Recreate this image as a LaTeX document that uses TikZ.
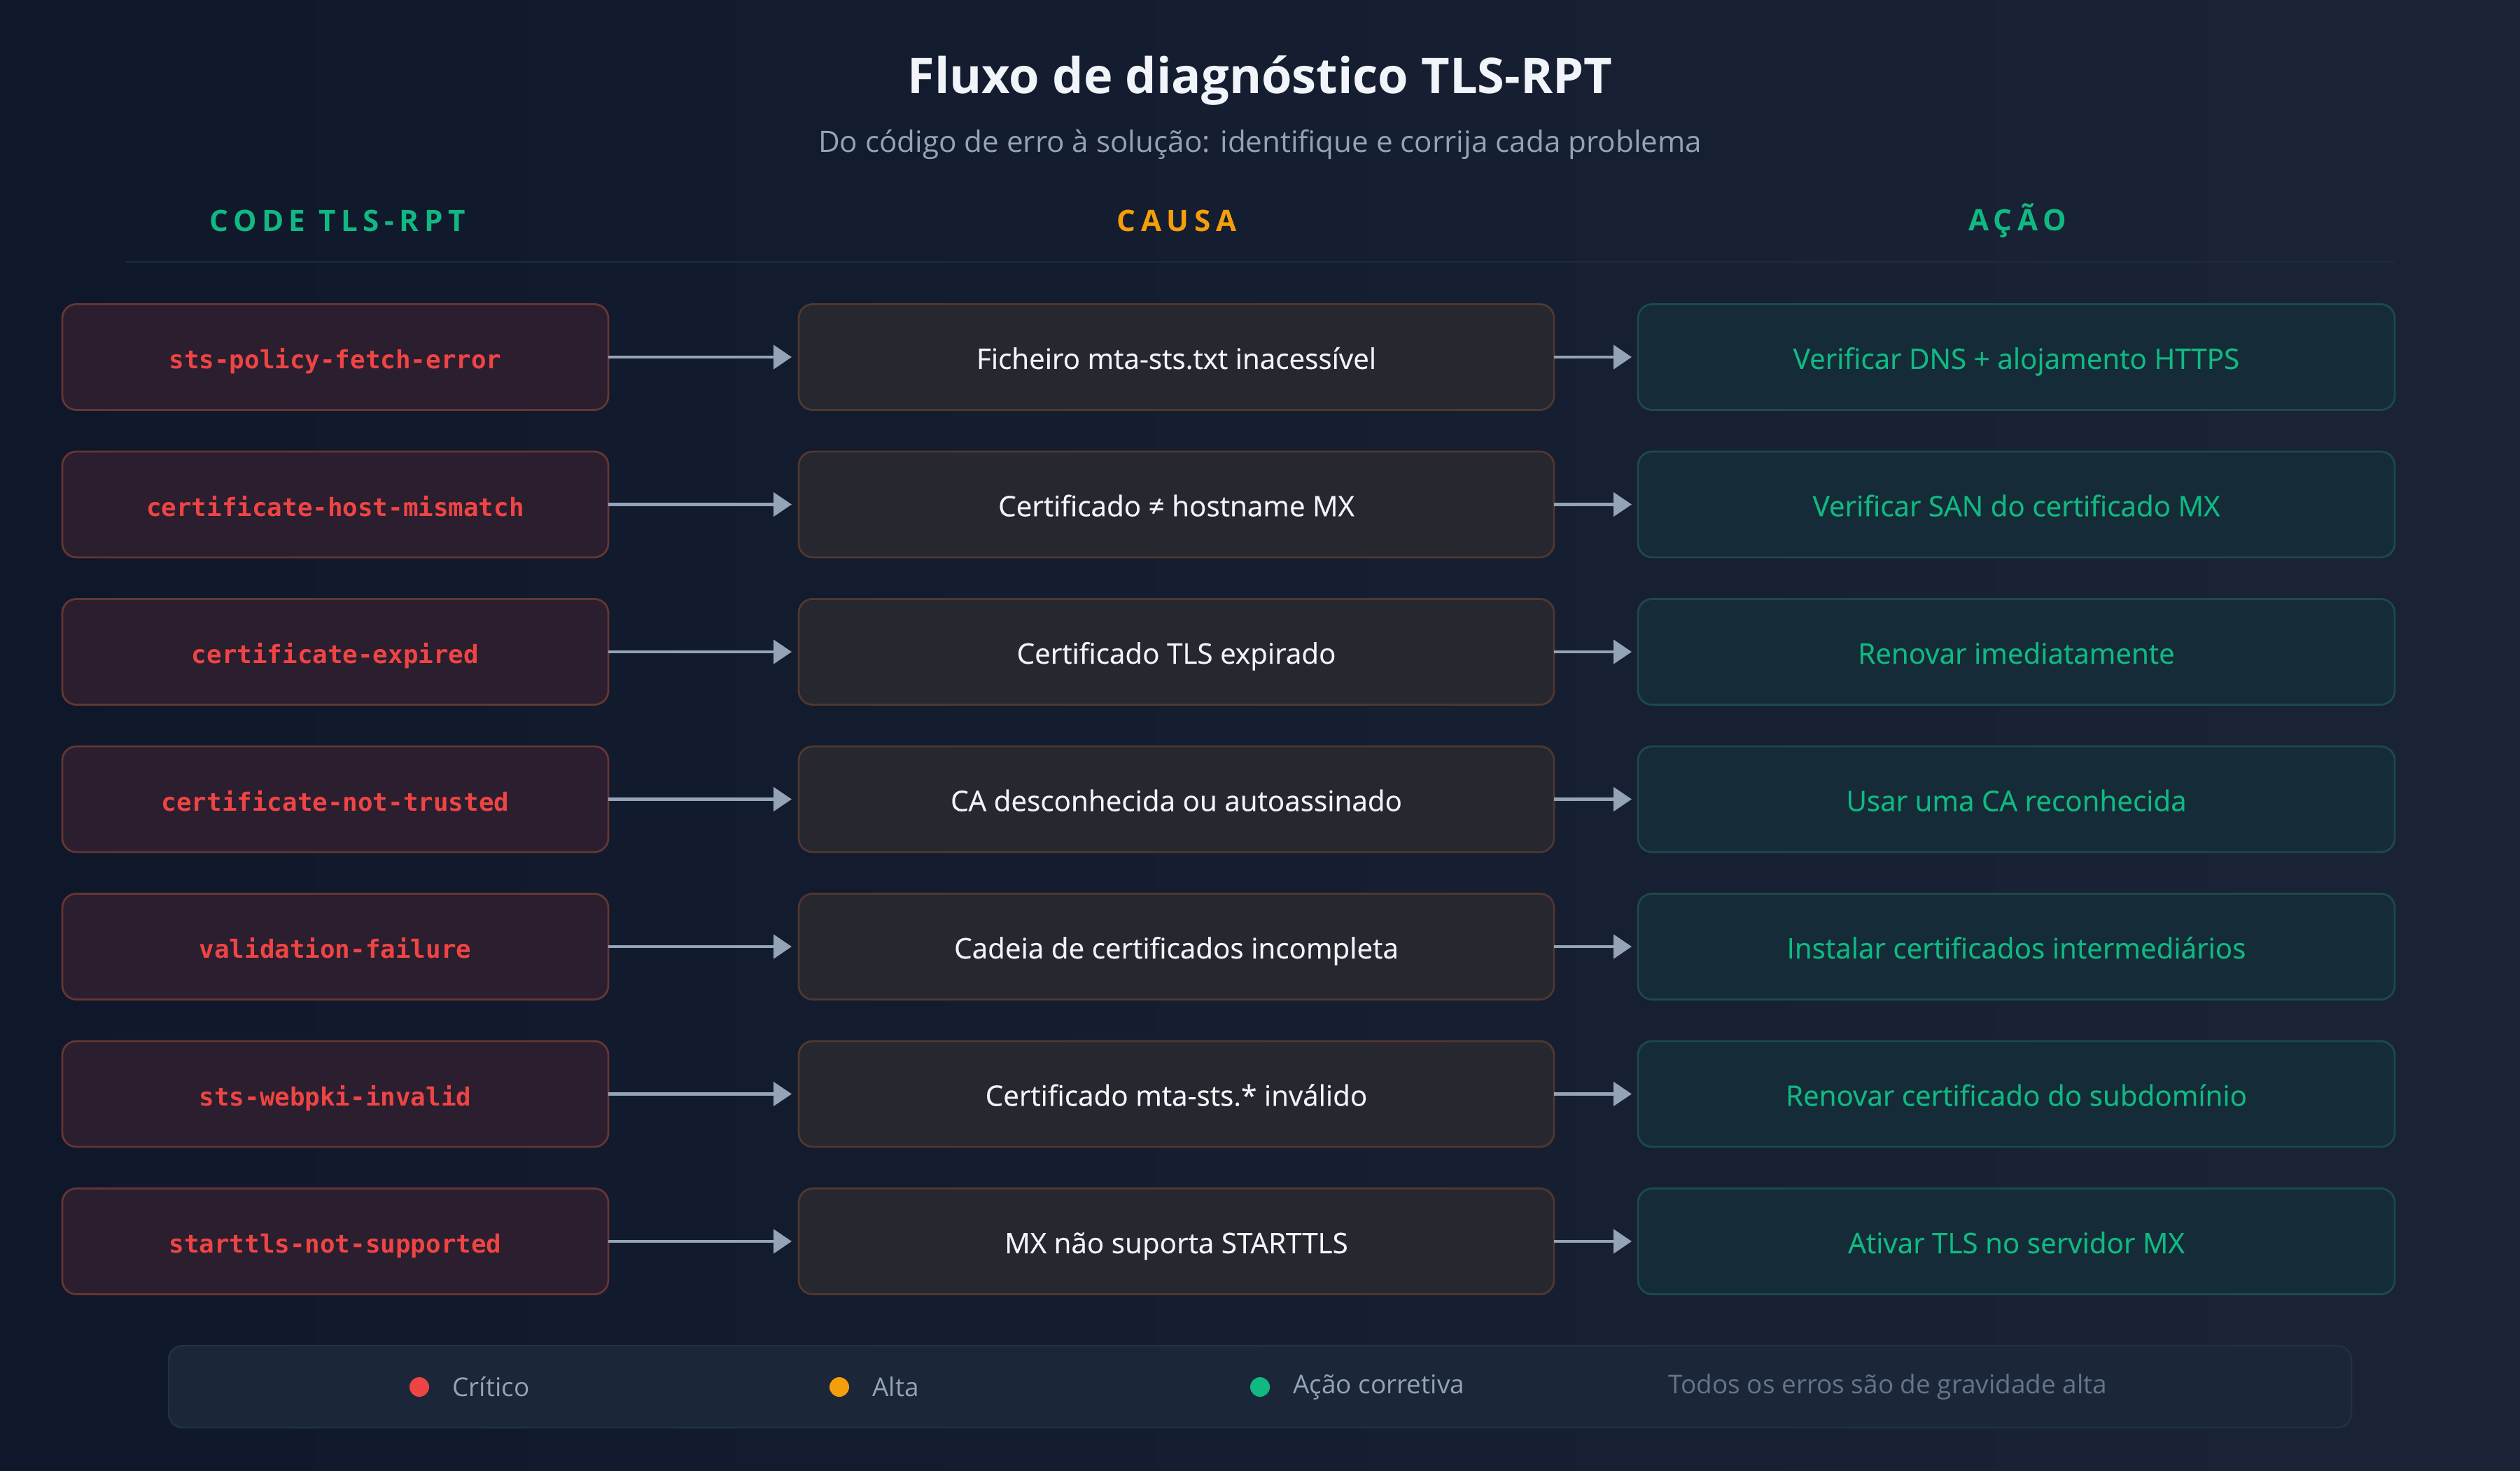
\documentclass[tikz,border=0pt]{standalone}
\usepackage{fontspec}
\setmainfont{Open Sans}
\newfontfamily\codefont{DejaVu Sans Mono}
\newfontfamily\boxfont{Open Sans}[FakeBold=0.35]
\usetikzlibrary{arrows.meta,positioning}
% couleurs
\definecolor{bgA}{HTML}{0F172A}
\definecolor{bgB}{HTML}{1B2436}
\definecolor{titlewhite}{HTML}{F1F5F9}
\definecolor{subgray}{HTML}{94A3B8}
\definecolor{dimgray}{HTML}{64748B}
\definecolor{teal}{HTML}{10B981}
\definecolor{amber}{HTML}{F59E0B}
\definecolor{codered}{HTML}{EF4444}
\definecolor{codefill}{HTML}{2A1E2F}
\definecolor{codeline}{HTML}{653631}
\definecolor{causefill}{HTML}{26272F}
\definecolor{causeline}{HTML}{50372F}
\definecolor{actfill}{HTML}{152B37}
\definecolor{actline}{HTML}{1C4A49}
\definecolor{rulecol}{HTML}{1E2B3B}
\definecolor{legfill}{HTML}{1B2638}
\definecolor{legline}{HTML}{1F3440}
\tikzset{
  codebox/.style={draw=codeline, fill=codefill, line width=0.8pt, rounded corners=0.2cm, outer sep=0pt,
    minimum width=7.8cm, minimum height=1.51cm, text=codered, text height=2ex, text depth=0.2ex,
    font=\codefont\bfseries\fontsize{10.2}{12}\selectfont},
  causebox/.style={draw=causeline, fill=causefill, line width=0.8pt, rounded corners=0.2cm, outer sep=0pt,
    minimum width=10.79cm, minimum height=1.51cm, text=titlewhite, text height=2ex, text depth=0.2ex,
    font=\boxfont\fontsize{11.5}{13}\selectfont},
  actbox/.style={draw=actline, fill=actfill, line width=0.8pt, rounded corners=0.2cm, outer sep=0pt,
    minimum width=10.81cm, minimum height=1.51cm, text=teal, text height=2ex, text depth=0.2ex,
    font=\boxfont\fontsize{11.5}{13}\selectfont},
  flow/.style={draw=subgray, line width=1.3pt, -{Triangle[length=0.26cm,width=0.34cm]}},
  colhead/.style={font=\bfseries\fontsize{12}{14}\selectfont\addfontfeature{LetterSpace=18}},
  legdot/.style={circle, inner sep=0pt, minimum size=0.28cm},
  legtext/.style={text=subgray, font=\fontsize{10.5}{12}\selectfont, anchor=west, inner sep=0pt},
}
\begin{document}
\begin{tikzpicture}
% fond
\shade[left color=bgA, right color=bgB] (0,0) rectangle (36,21);
\useasboundingbox (0,0) rectangle (36,21);
% titre
\node[text=titlewhite, font=\bfseries\fontsize{20}{24}\selectfont] (title) at (18,19.85) {Fluxo de diagnóstico TLS-RPT};
\node[text=subgray, font=\fontsize{12}{14}\selectfont] (subtitle) at (18,18.94) {Do código de erro à solução: identifique e corrija cada problema};
% en-têtes
\node[colhead, text=teal] (hcode) at (4.82,17.85) {CODE TLS-RPT};
\node[colhead, text=amber] (hcause) at (16.81,17.85) {CAUSA};
\node[colhead, text=teal] (hact) at (28.82,17.85) {AÇÃO};
\coordinate (ruleL) at (1.79,17.26);
\coordinate (ruleR) at (34.21,17.26);
\draw[rulecol, line width=0.7pt] (ruleL) -- (ruleR);
% colonne des codes
\node[codebox] (c1) at (4.79,15.90) {sts-policy-fetch-error};
\node[codebox, below=0.595cm of c1] (c2) {certificate-host-mismatch};
\node[codebox, below=0.595cm of c2] (c3) {certificate-expired};
\node[codebox, below=0.595cm of c3] (c4) {certificate-not-trusted};
\node[codebox, below=0.595cm of c4] (c5) {validation-failure};
\node[codebox, below=0.595cm of c5] (c6) {sts-webpki-invalid};
\node[codebox, below=0.595cm of c6] (c7) {starttls-not-supported};
% colonne des causes
\node[causebox, right=2.72cm of c1] (k1) {Ficheiro mta-sts.txt inacessível};
\node[causebox, right=2.72cm of c2] (k2) {Certificado ≠ hostname MX};
\node[causebox, right=2.72cm of c3] (k3) {Certificado TLS expirado};
\node[causebox, right=2.72cm of c4] (k4) {CA desconhecida ou autoassinado};
\node[causebox, right=2.72cm of c5] (k5) {Cadeia de certificados incompleta};
\node[causebox, right=2.72cm of c6] (k6) {Certificado mta-sts.* inválido};
\node[causebox, right=2.72cm of c7] (k7) {MX não suporta STARTTLS};
% colonne des actions
\node[actbox, right=1.2cm of k1] (a1) {Verificar DNS + alojamento HTTPS};
\node[actbox, right=1.2cm of k2] (a2) {Verificar SAN do certificado MX};
\node[actbox, right=1.2cm of k3] (a3) {Renovar imediatamente};
\node[actbox, right=1.2cm of k4] (a4) {Usar uma CA reconhecida};
\node[actbox, right=1.2cm of k5] (a5) {Instalar certificados intermediários};
\node[actbox, right=1.2cm of k6] (a6) {Renovar certificado do subdomínio};
\node[actbox, right=1.2cm of k7] (a7) {Ativar TLS no servidor MX};
% flèches
\draw[flow, shorten >=0.1cm] (c1) -- (k1);
\draw[flow, shorten >=0.1cm] (c2) -- (k2);
\draw[flow, shorten >=0.1cm] (c3) -- (k3);
\draw[flow, shorten >=0.1cm] (c4) -- (k4);
\draw[flow, shorten >=0.1cm] (c5) -- (k5);
\draw[flow, shorten >=0.1cm] (c6) -- (k6);
\draw[flow, shorten >=0.1cm] (c7) -- (k7);
\draw[flow, shorten >=0.09cm] (k1) -- (a1);
\draw[flow, shorten >=0.09cm] (k2) -- (a2);
\draw[flow, shorten >=0.09cm] (k3) -- (a3);
\draw[flow, shorten >=0.09cm] (k4) -- (a4);
\draw[flow, shorten >=0.09cm] (k5) -- (a5);
\draw[flow, shorten >=0.09cm] (k6) -- (a6);
\draw[flow, shorten >=0.09cm] (k7) -- (a7);
% légende
\draw[legline, fill=legfill, line width=0.7pt, rounded corners=0.2cm] (2.41,0.61) rectangle (33.59,1.78);
\node[legdot, fill=codered] (d1) at (5.99,1.19) {};
\node[legtext, right=0.32cm of d1] (l1) {Crítico};
\node[legdot, fill=amber] (d2) at (11.99,1.19) {};
\node[legtext, right=0.32cm of d2] (l2) {Alta};
\node[legdot, fill=teal] (d3) at (18.00,1.19) {};
\node[legtext, right=0.32cm of d3] (l3) {Ação corretiva};
\node[legtext, text=dimgray] (l4) at (23.83,1.19) {Todos os erros são de gravidade alta};
\end{tikzpicture}
\end{document}
